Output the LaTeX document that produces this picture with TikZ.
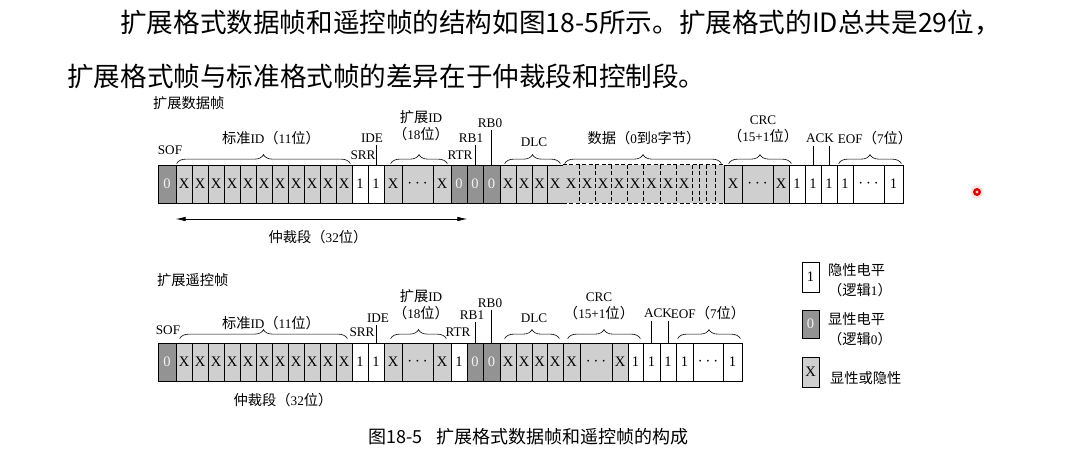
\documentclass[tikz,border=0pt]{standalone}
\usepackage{fontspec}
\setmainfont{Liberation Serif}
\newfontfamily\cjk{Noto Sans CJK SC}
\newfontfamily\cjkd[Scale=1.08]{Noto Sans CJK SC}
\usetikzlibrary{decorations.pathreplacing,arrows.meta}
\definecolor{zerogray}{HTML}{939393}
\definecolor{anygray}{HTML}{CFCFCF}
\newcommand\zh[1]{{\cjkd #1}}
\newcommand\dotsfill{{\fontsize{17}{17}\selectfont$\cdots$}}
% one bit field: name, left x, right x, centre y, style, text
\newcommand\bitcell[6]{%
  \pgfmathsetmacro\bcx{(#2+#3)/2}%
  \pgfmathsetmacro\bcw{#3-#2}%
  \node[#5, minimum width=\bcw pt] (#1) at (\bcx,#4) {#6};}
\tikzset{
  cellbase/.style={draw=black, line width=0.7pt, inner sep=0pt, minimum height=38pt,
    font=\fontsize{14.5}{15}\selectfont},
  zero/.style={cellbase, fill=zerogray, text=gray!10},
  one/.style={cellbase, fill=white},
  anyx/.style={cellbase, fill=anygray},
  datafield/.style={cellbase, draw=none, fill=anygray},
  lbl/.style={inner sep=0pt, font=\fontsize{13.2}{17}\selectfont},
  brc/.style={decorate, decoration={brace, amplitude=9pt}, line width=0.6pt},
  tick/.style={line width=0.7pt},
  divider/.style={line width=0.7pt, dash pattern=on 4pt off 2.5pt},
  arr/.style={line width=0.7pt, {Latex[length=10pt,width=4.5pt]}-{Latex[length=10pt,width=4.5pt]}},
}
\begin{document}
\begin{tikzpicture}[x=1pt,y=-1pt]
\useasboundingbox (0,0) rectangle (1066,450);
\fill[white] (0,0) rectangle (1066,450);

% introductory paragraph
\node[anchor=west, inner sep=0pt, font={\cjk\fontsize{26.6}{30}\selectfont}] (para1) at (120,23)
  {扩展格式数据帧和遥控帧的结构如图18-5所示。扩展格式的ID总共是29位，};
\node[anchor=west, inner sep=0pt, font={\cjk\fontsize{26.6}{30}\selectfont}] (para2) at (67,76)
  {扩展格式帧与标准格式帧的差异在于仲裁段和控制段。};

% pointer mark
\fill[red!12] (977,192) circle (6.5);
\fill[red!85!black] (977,192) circle (4);
\fill[red!25] (977,192) circle (1.6);

%================ extended data frame ================
\node[lbl, anchor=west] (ttitle) at (153,103) {\zh{扩展数据帧}};
\bitcell{tsof}{158}{176}{184}{zero}{0}
\foreach \i in {1,...,11}{%
  \pgfmathsetmacro\xa{160+16*\i}\pgfmathsetmacro\xb{176+16*\i}%
  \bitcell{ti\i}{\xa}{\xb}{184}{anyx}{X}}
\bitcell{tsrr}{352}{368}{184}{one}{1}
\bitcell{tide}{368}{384}{184}{one}{1}
\bitcell{tx1}{384}{402}{184}{anyx}{X}
\bitcell{tdots1}{402}{433}{184}{anyx}{\dotsfill}
\bitcell{tx2}{433}{451}{184}{anyx}{X}
\bitcell{trtr}{451}{467}{184}{zero}{0}
\bitcell{trb1}{467}{483}{184}{zero}{0}
\bitcell{trb0}{483}{500}{184}{zero}{0}
\bitcell{td1}{500}{516}{184}{anyx}{X}
\bitcell{td2}{516}{532}{184}{anyx}{X}
\bitcell{td3}{532}{547}{184}{anyx}{X}
\bitcell{td4}{547}{563}{184}{anyx}{X}
\bitcell{tdata}{563}{724}{184}{datafield}{}
\draw[divider] (tdata.north west) -- (tdata.north east);
\draw[divider] (tdata.south west) -- (tdata.south east);
\foreach \xd in {579,595,611,627,643,660,676,692,699,706,715}
  \draw[divider] (\xd,0 |- tdata.north) -- (\xd,0 |- tdata.south);
\foreach \xc [count=\k] in {571,587,603,619,635,651.5,668,684}
  \node[cellbase, draw=none] (tdx\k) at (\xc,184) {X};
\bitcell{tc1}{724}{742}{184}{anyx}{X}
\bitcell{tcdots}{742}{773}{184}{anyx}{\dotsfill}
\bitcell{tc2}{773}{789}{184}{anyx}{X}
\bitcell{tcd}{789}{805}{184}{one}{1}
\bitcell{tack}{805}{821}{184}{one}{1}
\bitcell{tackd}{821}{837}{184}{one}{1}
\bitcell{te1}{837}{853}{184}{one}{1}
\bitcell{tedots}{853}{884}{184}{one}{\dotsfill}
\bitcell{te2}{884}{903}{184}{one}{1}

% field labels
\node[lbl] (tsofl) at (170,150) {SOF};
\node[lbl] (tidl) at (271,138) {\zh{标准}ID\zh{（}11\zh{位）}};
\node[lbl] (tsrrl) at (363,155) {SRR};
\node[lbl] (tidel) at (372,138) {IDE};
\node[lbl, align=center] (textl) at (421,126) {\zh{扩展}ID\\\zh{（}18\zh{位）}};
\node[lbl] (trtrl) at (460,155) {RTR};
\node[lbl] (trb1l) at (471,138) {RB1};
\node[lbl] (trb0l) at (490,123) {RB0};
\node[lbl] (tdlcl) at (534,142) {DLC};
\node[lbl] (tdatal) at (644,138) {\zh{数据（}0\zh{到}8\zh{字节）}};
\node[lbl, align=center] (tcrcl) at (763,129) {CRC\\\zh{（}15+1\zh{位）}};
\node[lbl] (tackl) at (820,138) {ACK};
\node[lbl] (teofl) at (875,138) {EOF\zh{（}7\zh{位）}};

% braces
\draw[brc] ([xshift=1pt,yshift=1pt]ti1.north west) -- ([xshift=-2pt,yshift=1pt]ti11.north east);
\draw[brc] ([xshift=7pt,yshift=1pt]tx1.north west) -- ([xshift=-4pt,yshift=1pt]tx2.north east);
\draw[brc] ([xshift=5pt,yshift=1pt]td1.north west) -- ([xshift=-3pt,yshift=1pt]td4.north east);
\draw[brc] ([xshift=2pt,yshift=1pt]tdata.north west) -- ([xshift=-3pt,yshift=1pt]tdata.north east);
\draw[brc] ([xshift=5pt,yshift=1pt]tc1.north west) -- ([xshift=2pt,yshift=1pt]tc2.north east);
\draw[brc] ([xshift=2pt,yshift=1pt]te1.north west) -- ([xshift=-2pt,yshift=1pt]te2.north east);

% single-bit pointers
\draw[tick] ([yshift=-2pt]tidel.south -| tide.north) -- (tide.north);
\draw[tick] ([yshift=-2pt]trb1l.south -| trb1.north) -- (trb1.north);
\draw[tick] ([yshift=-2pt]trb0l.south -| trb0.north) -- (trb0.north);
\draw[tick] ([yshift=-3pt]tackl.south -| tack.north) -- (tack.north);
\draw[tick] ([yshift=-3pt]tackl.south -| tackd.north) -- (tackd.north);

% arbitration field span
\coordinate (arbL) at (ti1.west |- 0,219);
\coordinate (arbR) at (trtr.east |- 0,219);
\draw[arr] (arbL) -- (arbR);
\node[lbl] (tarbl) at (318,237) {\zh{仲裁段（}32\zh{位）}};

%================ extended remote frame ================
\node[lbl, anchor=west] (btitle) at (157,280) {\zh{扩展遥控帧}};
\bitcell{bsof}{158}{176}{362}{zero}{0}
\foreach \i in {1,...,11}{%
  \pgfmathsetmacro\xa{160+16*\i}\pgfmathsetmacro\xb{176+16*\i}%
  \bitcell{bi\i}{\xa}{\xb}{362}{anyx}{X}}
\bitcell{bsrr}{352}{368}{362}{one}{1}
\bitcell{bide}{368}{384}{362}{one}{1}
\bitcell{bx1}{384}{402}{362}{anyx}{X}
\bitcell{bdots1}{402}{433}{362}{anyx}{\dotsfill}
\bitcell{bx2}{433}{451}{362}{anyx}{X}
\bitcell{brtr}{451}{467}{362}{one}{1}
\bitcell{brb1}{467}{483}{362}{zero}{0}
\bitcell{brb0}{483}{500}{362}{zero}{0}
\bitcell{bd1}{500}{516}{362}{anyx}{X}
\bitcell{bd2}{516}{532}{362}{anyx}{X}
\bitcell{bd3}{532}{547}{362}{anyx}{X}
\bitcell{bd4}{547}{563}{362}{anyx}{X}
\bitcell{bc1}{563}{580}{362}{anyx}{X}
\bitcell{bcdots}{580}{612}{362}{anyx}{\dotsfill}
\bitcell{bc2}{612}{628}{362}{anyx}{X}
\bitcell{bcd}{628}{643}{362}{one}{1}
\bitcell{back}{643}{660}{362}{one}{1}
\bitcell{backd}{660}{676}{362}{one}{1}
\bitcell{be1}{676}{693}{362}{one}{1}
\bitcell{bedots}{693}{723}{362}{one}{\dotsfill}
\bitcell{be2}{723}{742}{362}{one}{1}

\node[lbl] (bsofl) at (168,330) {SOF};
\node[lbl] (bidl) at (271,323) {\zh{标准}ID\zh{（}11\zh{位）}};
\node[lbl] (bsrrl) at (362,332) {SRR};
\node[lbl] (bidel) at (378,318) {IDE};
\node[lbl, align=center] (bextl) at (421,305) {\zh{扩展}ID\\\zh{（}18\zh{位）}};
\node[lbl] (brtrl) at (458,332) {RTR};
\node[lbl] (brb1l) at (472,315) {RB1};
\node[lbl] (brb0l) at (490,303) {RB0};
\node[lbl] (bdlcl) at (534,318) {DLC};
\node[lbl, align=center] (bcrcl) at (599,306) {CRC\\\zh{（}15+1\zh{位）}};
\node[lbl] (backl) at (658,313) {ACK};
\node[lbl] (beofl) at (708,313) {EOF\zh{（}7\zh{位）}};

\draw[brc] ([xshift=4pt,yshift=4pt]bi1.north west) -- ([xshift=-5pt,yshift=4pt]bi11.north east);
\draw[brc] ([xshift=7pt,yshift=4pt]bx1.north west) -- ([xshift=-5pt,yshift=4pt]bx2.north east);
\draw[brc] ([xshift=5pt,yshift=4pt]bd1.north west) -- ([xshift=-4pt,yshift=4pt]bd4.north east);
\draw[brc] ([xshift=5pt,yshift=4pt]bc1.north west) -- ([xshift=-3pt,yshift=4pt]bcd.north east);
\draw[brc] ([xshift=2pt,yshift=4pt]be1.north west) -- ([xshift=-2pt,yshift=4pt]be2.north east);

\draw[tick] ([yshift=-2pt]bidel.south -| bide.north) -- (bide.north);
\draw[tick] ([yshift=-2pt]brb1l.south -| brb1.north) -- (brb1.north);
\draw[tick] ([yshift=-2pt]brb0l.south -| brb0.north) -- (brb0.north);
\draw[tick] ([yshift=-3pt]backl.south -| back.north) -- (back.north);
\draw[tick] ([yshift=-3pt]backl.south -| backd.north) -- (backd.north);

\node[lbl] (barbl) at (283,400) {\zh{仲裁段（}32\zh{位）}};

%================ legend ================
\node[one, minimum width=17pt, minimum height=30pt] (lg1) at (810.5,277) {1};
\node[lbl, anchor=west, align=left, font=\fontsize{13.2}{20}\selectfont] (lg1t) at (828,280)
  {\zh{隐性电平}\\\zh{（逻辑}1\zh{）}};
\node[zero, minimum width=17pt, minimum height=28pt] (lg0) at (810.5,324) {0};
\node[lbl, anchor=west, align=left, font=\fontsize{13.2}{20}\selectfont] (lg0t) at (828,329)
  {\zh{显性电平}\\\zh{（逻辑}0\zh{）}};
\node[anyx, minimum width=17pt, minimum height=30pt] (lgx) at (810.5,372) {X};
\node[lbl, anchor=west] (lgxt) at (830,378) {\zh{显性或隐性}};

% caption
\node[anchor=west, inner sep=0pt, font={\cjk\fontsize{18}{20}\selectfont}] (cap) at (368,437)
  {图18-5\hspace{14pt}扩展格式数据帧和遥控帧的构成};
\end{tikzpicture}
\end{document}
